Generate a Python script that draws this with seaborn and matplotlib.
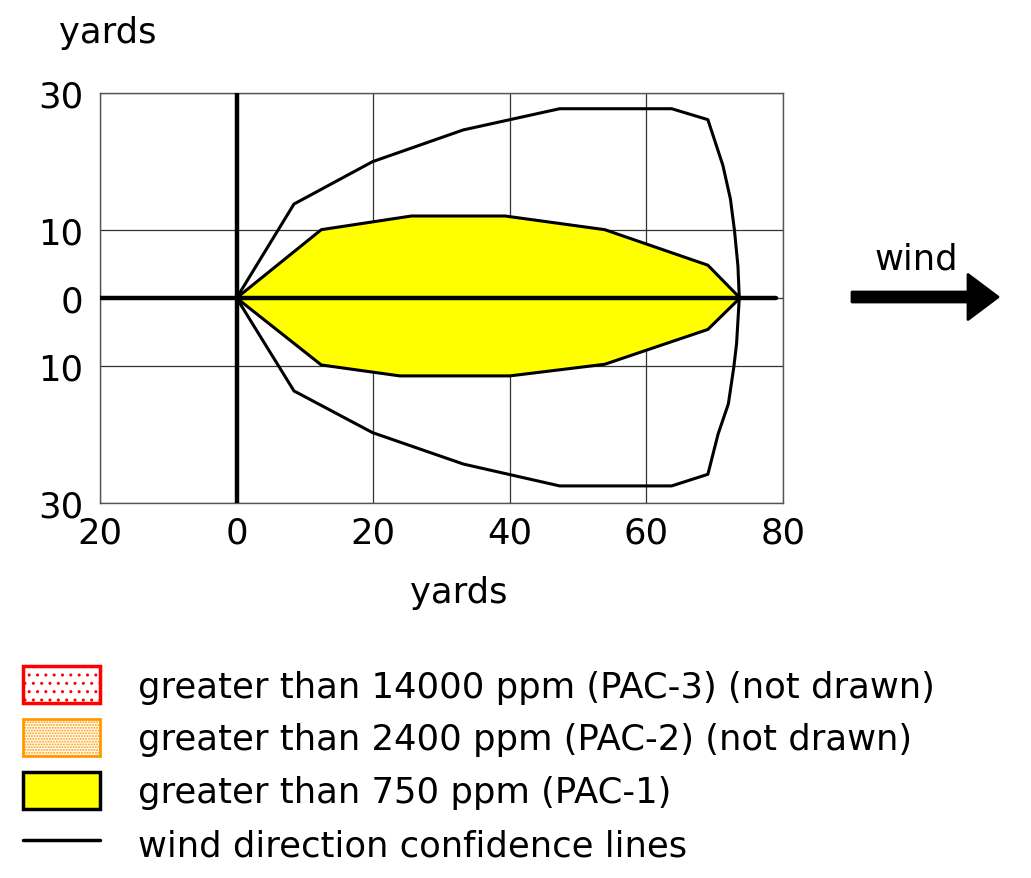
import matplotlib
matplotlib.use("Agg")
import matplotlib.pyplot as plt
import seaborn as sns
from matplotlib.patches import Patch, FancyArrow
from matplotlib.lines import Line2D

# Beállítások
sns.set_style("white")
plt.rcParams["font.family"] = ["DejaVu Sans"]
plt.rcParams.update({"font.size": 25.5, "text.color": "black",
                     "xtick.color": "black", "ytick.color": "black",
                     "xtick.labelcolor": "black", "ytick.labelcolor": "black"})

# Adatok (yards)
x_ticks = [-20, 0, 20, 40, 60, 80]
x_tick_labels = ["20", "0", "20", "40", "60", "80"]
y_ticks = [30, 10, 0, -10, -30]
y_tick_labels = ["30", "10", "0", "10", "30"]

# PAC-1 threat zone outline (upper edge, then lower edge back to the source)
zone_x = [0, 12.4, 25.6, 39.3, 53.9, 69.0, 73.7, 69.0, 53.9, 40.0, 23.9, 12.4, 0]
zone_y = [0, 10.0, 12.0, 12.0, 10.0, 4.8, 0, -4.6, -9.7, -11.4, -11.4, -9.8, 0]

# wind direction confidence lines
conf_x = [0, 8.4, 19.9, 33.2, 47.3, 63.7, 69.0, 71.2, 72.3, 72.9, 73.4, 73.6,
          73.2, 72.8, 72.0, 70.5, 69.0, 63.7, 47.3, 33.2, 19.9, 8.4, 0]
conf_y = [0, 13.75, 19.95, 24.6, 27.7, 27.7, 26.1, 19.4, 14.5, 9.85, 4.7, 0,
          -6.7, -10.1, -15.5, -19.9, -25.8, -27.5, -27.5, -24.3, -19.7, -13.6, 0]

legend_labels = [
    "greater than 14000 ppm (PAC-3) (not drawn)",
    "greater than 2400 ppm (PAC-2) (not drawn)",
    "greater than 750 ppm (PAC-1)",
    "wind direction confidence lines",
]

fig = plt.figure(figsize=(10.31, 8.79), dpi=100)
ax = fig.add_axes([100 / 1031, 1 - 504 / 879, 683 / 1031, 410 / 879])

ax.fill(zone_x, zone_y, facecolor="yellow", edgecolor="black", linewidth=2.2, zorder=2)
sns.lineplot(x=conf_x, y=conf_y, sort=False, estimator=None, color="black",
             linewidth=2.2, ax=ax, zorder=4)

ax.axhline(0, xmin=0, xmax=0.99, color="black", linewidth=3.2, zorder=5)
ax.axvline(0, color="black", linewidth=3.2, zorder=5)

ax.set_xlim(-20, 80)
ax.set_ylim(-30, 30)
ax.set_xticks(x_ticks)
ax.set_xticklabels(x_tick_labels)
ax.set_yticks(y_ticks)
ax.set_yticklabels(y_tick_labels)
ax.tick_params(axis="x", length=0, pad=9, labelsize=25.5, labelcolor="black")
ax.tick_params(axis="y", length=0, pad=12, labelsize=25.5, labelcolor="black")
ax.grid(True, color="#333333", linewidth=0.9, zorder=1)
ax.set_axisbelow(True)
for sp in ax.spines.values():
    sp.set_color("#555555")
    sp.set_linewidth(1.0)

fig.text(59 / 1031, 1 - 43 / 879, "yards", va="baseline", ha="left", color="black")
fig.text(410 / 1031, 1 - 603 / 879, "yards", va="baseline", ha="left", color="black")
fig.text(875 / 1031, 1 - 270 / 879, "wind", va="baseline", ha="left", color="black")

# wind arrow (inches)
arrow = FancyArrow(8.52, (879 - 298) / 100, 1.46, 0, width=0.1, head_width=0.45,
                   head_length=0.3, length_includes_head=True, color="black",
                   linewidth=2, joinstyle="round", capstyle="round",
                   transform=fig.dpi_scale_trans)
fig.add_artist(arrow)

handles = [
    Patch(facecolor="white", edgecolor="red", hatch="..", linewidth=2.5),
    Patch(facecolor="white", edgecolor="#ff9900", hatch="......", linewidth=2.0),
    Patch(facecolor="yellow", edgecolor="black", linewidth=2.5),
    Line2D([0], [0], color="black", linewidth=2.5),
]
leg = fig.legend(handles, legend_labels, loc="upper left",
                 bbox_to_anchor=(23 / 1031, 1 - 667 / 879), frameon=False,
                 fontsize=25.5, borderpad=0, borderaxespad=0, handlelength=2.18,
                 handleheight=1.25, handletextpad=1.08, labelspacing=0.43)
for t in leg.get_texts():
    t.set_color("black")

fig.savefig("out.png", dpi=100)
